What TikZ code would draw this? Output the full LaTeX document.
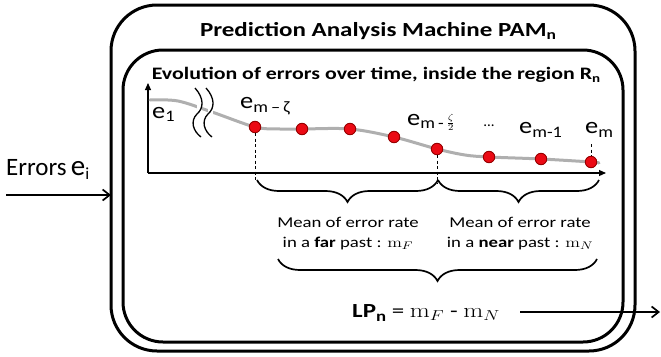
\documentclass[tikz,border=0pt]{standalone}
\usepackage[no-math]{fontspec}
\usepackage{graphicx}
\setmainfont{Carlito}
\usetikzlibrary{arrows.meta,decorations.pathreplacing}
\definecolor{curvegray}{RGB}{175,175,175}
\definecolor{dotred}{RGB}{235,10,20}
\definecolor{dotedge}{RGB}{150,0,0}
\newcommand{\hs}[1]{\scalebox{1.25}[1]{#1}}
\newcommand{\ee}[2][-4.5pt]{\scalebox{1.15}[1]{\fontsize{23}{23}\selectfont e\raisebox{#1}{\fontsize{16}{16}\selectfont #2}}}
\begin{document}
\begin{tikzpicture}[x=1pt,y=-1pt,
  boxline/.style={draw=black,line width=3pt,inner sep=0pt,outer sep=0pt},
  axisline/.style={line width=1.1pt,-{Triangle[length=7pt,width=6pt]}},
  conn/.style={line width=1.7pt,-{Straight Barb[length=7pt,width=11pt,line width=1.7pt]}},
  dashv/.style={line width=0.9pt,dash pattern=on 3pt off 2.5pt},
  errdot/.style={circle,fill=dotred,draw=dotedge,line width=0.9pt,minimum size=11.5pt,inner sep=0pt},
  bracestyle/.style={line width=1.7pt,decorate,decoration={brace,amplitude=22pt,mirror}},
  lbl/.style={inner sep=0pt,anchor=base west},
  meantxt/.style={inner sep=0pt,anchor=north}
]
\useasboundingbox (0,0) rectangle (661,356);
% boxes
\node[boxline,rounded corners=46pt,minimum width=524pt,minimum height=346pt] (outer) at (373,178) {};
\node[boxline,rounded corners=40pt,minimum width=500pt,minimum height=292pt] (inner) at (373,196) {};
% titles
\node[inner sep=0pt,anchor=base] (title) at (378,36) {\hs{\bfseries\fontsize{20}{20}\selectfont Prediction Analysis Machine PAM\raisebox{-3pt}{\fontsize{14}{14}\selectfont n}}};
\node[inner sep=0pt,anchor=base] (subtitle) at (376,79) {\hs{\bfseries\fontsize{17.5}{17.5}\selectfont Evolution of errors over time, inside the region R\raisebox{-3pt}{\fontsize{12}{12}\selectfont n}}};
% axes
\coordinate (origin) at (148,173);
\coordinate (ytop) at (148,83);
\coordinate (xend) at (606,173);
\draw[axisline] (origin) -- (ytop);
\draw[axisline] (origin) -- (xend);
% curve
\draw[curvegray,line width=3pt,line cap=round] plot[smooth,tension=0.55] coordinates {(150,100) (178,101) (212,112) (255,127) (280,129) (302,129) (350,129) (394,137) (437,149) (465,155) (489,157) (541,159) (591,162) (599,163)};
% break marks
\foreach \dx in {0,11}{
  \draw[white,line width=5pt] (195+\dx+4,90) -- (195+\dx+4,135);
}
\foreach \dx in {0,11}{
  \draw[line width=1.3pt] (195+\dx,88) .. controls (204+\dx,98) and (204+\dx,108) .. (197+\dx,114) .. controls (190+\dx,121) and (193+\dx,131) .. (201+\dx,137);
}
% dots
\node[errdot] (d1) at (255,127) {};
\node[errdot] (d2) at (302,129) {};
\node[errdot] (d3) at (350,129) {};
\node[errdot] (d4) at (394,137) {};
\node[errdot] (d5) at (437,149) {};
\node[errdot] (d6) at (489,157) {};
\node[errdot] (d7) at (541,159) {};
\node[errdot] (d8) at (591,162) {};
% dashed
\coordinate (b1) at (255,181);
\coordinate (b2) at (437,183);
\coordinate (t8) at (591,144);
\draw[dashv] (d1.south) -- (b1);
\draw[dashv] (d5.south) -- (b2);
\draw[dashv] (t8) -- (d8.north);
% labels
\node[lbl] (l1) at (152,118) {\ee[-3.5pt]{1}};
\node[lbl] (l2) at (240,108) {\ee{m\,–\,ζ}};
\node[lbl] (l5) at (407,125) {\ee[-3pt]{m\,-\kern2.5pt\raisebox{2pt}{\fontsize{13}{13}\selectfont$\frac{\zeta}{2}$}}};
\node[inner sep=0pt,anchor=base,font=\fontsize{15}{15}\selectfont] (dots) at (489,126) {...};
\node[lbl] (l7) at (519,133) {\ee{m-1}};
\node[lbl] (l8) at (585,133) {\ee{m}};
% braces
\coordinate (bA) at (257,180);
\coordinate (bB) at (438,180);
\coordinate (bC) at (599,180);
\draw[bracestyle] (bA) -- (bB);
\draw[bracestyle] (bB) -- (bC);
\node[meantxt] (far) at (348,213) {\hs{\fontsize{15}{20}\selectfont\begin{tabular}{@{}c@{}}Mean of error rate\\in a \textbf{far} past : $\mathrm{m}_F$\end{tabular}}};
\node[meantxt] (near) at (520,213) {\hs{\fontsize{15}{20}\selectfont\begin{tabular}{@{}c@{}}Mean of error rate\\in a \textbf{near} past : $\mathrm{m}_N$\end{tabular}}};
\coordinate (bD) at (278,259);
\coordinate (bE) at (597,259);
\draw[bracestyle] (bD) -- (bE);
% LP
\node[inner sep=0pt,anchor=base west] (lp) at (352,317) {\hs{\fontsize{20}{20}\selectfont\textbf{LP\raisebox{-4pt}{\fontsize{15}{15}\selectfont n}} = $\mathrm{m}_F$ - $\mathrm{m}_N$}};
\coordinate (lpend) at (660,312);
\draw[conn] (lp.east |- lpend) ++(20,0) coordinate (lpstart) -- (lpend);
% input
\node[inner sep=0pt,anchor=base west] (errs) at (6,175) {\fontsize{25}{25}\selectfont Errors\,{\fontsize{29}{29}\selectfont e}\raisebox{-4pt}{\fontsize{17}{17}\selectfont i}};
\coordinate (instart) at (6,195);
\draw[conn] (instart) -- (instart -| outer.west);
\end{tikzpicture}
\end{document}
